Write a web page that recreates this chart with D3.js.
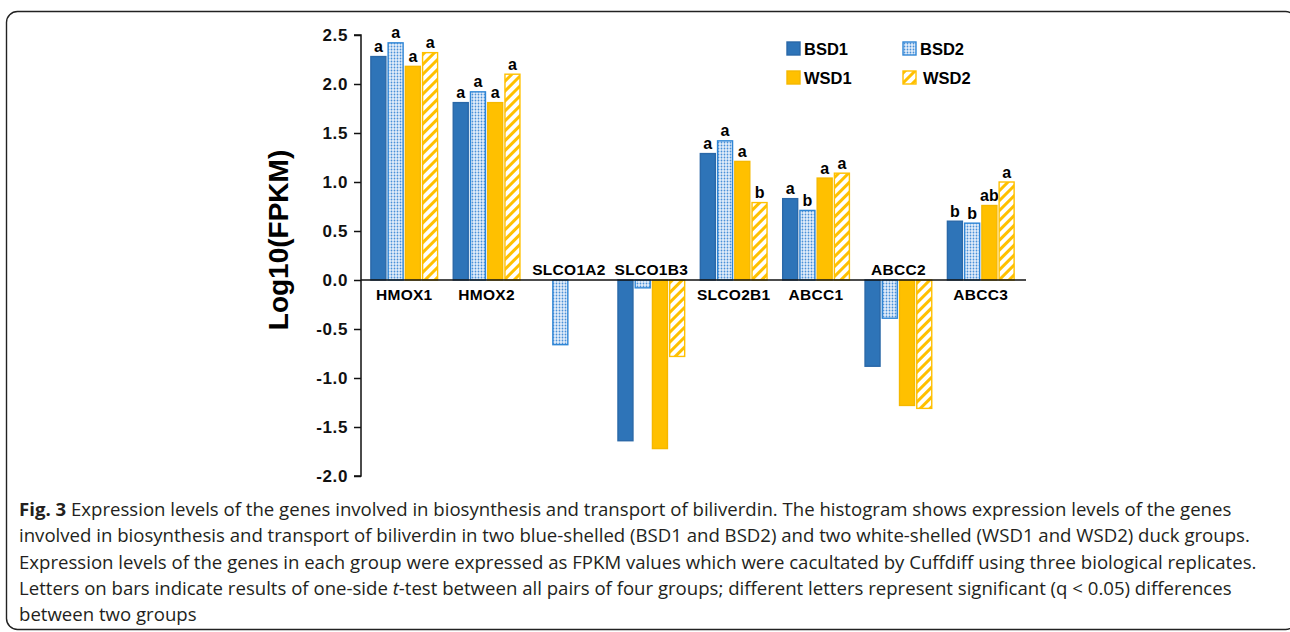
<!DOCTYPE html>
<html>
<head>
<meta charset="utf-8">
<script src="https://cdn.jsdelivr.net/npm/d3@7"></script>
<style>
  body { margin: 0; background: #fff; }
  svg text { font-family: "Liberation Sans", Arial, sans-serif; }
  .caption { font-family: "Open Sans", "Noto Sans", sans-serif; fill: #231f20; }
</style>
</head>
<body>
<div id="chart"></div>
<script>
// data
var genes = ["HMOX1", "HMOX2", "SLCO1A2", "SLCO1B3", "SLCO2B1", "ABCC1", "ABCC2", "ABCC3"];
var groups = ["BSD1", "BSD2", "WSD1", "WSD2"];
var bsd1 = [2.28, 1.81, null, -1.64, 1.29, 0.83, -0.88, 0.60];
var bsd2 = [2.42, 1.92, -0.66, -0.08, 1.42, 0.71, -0.39, 0.58];
var wsd1 = [2.18, 1.81, null, -1.72, 1.21, 1.04, -1.28, 0.76];
var wsd2 = [2.32, 2.10, null, -0.78, 0.79, 1.09, -1.31, 1.00];
var lettersBsd1 = ["a", "a", "", "", "a", "a", "", "b"];
var lettersBsd2 = ["a", "a", "", "", "a", "b", "", "b"];
var lettersWsd1 = ["a", "a", "", "", "a", "a", "", "ab"];
var lettersWsd2 = ["a", "a", "", "", "b", "a", "", "a"];
var yTicks = [-2.0, -1.5, -1.0, -0.5, 0.0, 0.5, 1.0, 1.5, 2.0, 2.5];
var captionLines = [
  "Expression levels of the genes involved in biosynthesis and transport of biliverdin. The histogram shows expression levels of the genes",
  "involved in biosynthesis and transport of biliverdin in two blue-shelled (BSD1 and BSD2) and two white-shelled (WSD1 and WSD2) duck groups.",
  "Expression levels of the genes in each group were expressed as FPKM values which were cacultated by Cuffdiff using three biological replicates.",
  "Letters on bars indicate results of one-side |t|-test between all pairs of four groups; different letters represent significant (q < 0.05) differences",
  "between two groups"
];

var values = [bsd1, bsd2, wsd1, wsd2];
var letters = [lettersBsd1, lettersBsd2, lettersWsd1, lettersWsd2];

var W = 1290, H = 632;
var svg = d3.select("#chart").append("svg")
  .attr("width", W).attr("height", H);

// patterns for BSD2 (dots) and WSD2 (stripes)
var defs = svg.append("defs");
var dots = defs.append("pattern")
  .attr("id", "dots").attr("patternUnits", "userSpaceOnUse")
  .attr("width", 3).attr("height", 3);
dots.append("rect").attr("width", 3).attr("height", 3).attr("fill", "#e3eefa");
dots.append("circle").attr("cx", 1.5).attr("cy", 1.5).attr("r", 0.9).attr("fill", "#4a90d8");

var stripes = defs.append("pattern")
  .attr("id", "stripes").attr("patternUnits", "userSpaceOnUse")
  .attr("width", 7).attr("height", 7)
  .attr("patternTransform", "rotate(45)");
stripes.append("rect").attr("width", 7).attr("height", 7).attr("fill", "#fff");
stripes.append("rect").attr("width", 3).attr("height", 7).attr("fill", "#ffc000");

var fills = ["#2e74b8", "url(#dots)", "#ffc000", "url(#stripes)"];
var strokes = ["#2a68a8", "#2f86d6", "#f5b800", "#ffc000"];

// frame
svg.append("rect")
  .attr("x", 6.5).attr("y", 11.5)
  .attr("width", 1290).attr("height", 618)
  .attr("rx", 11).attr("ry", 11)
  .attr("fill", "none").attr("stroke", "#222").attr("stroke-width", 1.4);

// scales
var x0 = d3.scaleBand().domain(genes).range([361, 1024]).paddingInner(0.19).paddingOuter(0.12);
var x1 = d3.scaleBand().domain(groups).range([0, x0.bandwidth()]).paddingInner(0.13);
var y = d3.scaleLinear().domain([-2, 2.5]).range([476, 35]);

// bars
groups.forEach(function(g, gi) {
  var rows = genes.map(function(gene, i) {
    return {gene: gene, v: values[gi][i], lab: letters[gi][i]};
  }).filter(function(d) { return d.v !== null; });

  svg.selectAll(".bar-" + g)
    .data(rows)
    .enter()
    .append("rect")
      .attr("class", "bar-" + g)
      .attr("x", d => x0(d.gene) + x1(g))
      .attr("width", x1.bandwidth())
      .attr("y", d => y(Math.max(0, d.v)))
      .attr("height", d => Math.abs(y(d.v) - y(0)))
      .attr("fill", fills[gi])
      .attr("stroke", strokes[gi])
      .attr("stroke-width", 1.4);

  svg.selectAll(".lab-" + g)
    .data(rows.filter(d => d.lab))
    .enter()
    .append("text")
      .attr("class", "lab-" + g)
      .attr("x", d => x0(d.gene) + x1(g) + x1.bandwidth() / 2)
      .attr("y", d => y(d.v) - 4.5)
      .attr("text-anchor", "middle")
      .style("font-size", "16px")
      .style("font-weight", "bold")
      .text(d => d.lab);
});

// y axis (plain hyphen for negatives, like the original)
var fmt = d3.format(".1f");
var yAxis = svg.append("g")
  .attr("transform", "translate(361,0)")
  .call(d3.axisLeft(y).tickValues(yTicks)
    .tickFormat(d => fmt(d).replace("\u2212", "-"))
    .tickSize(7).tickPadding(6));
yAxis.select(".domain").attr("stroke", "#111").attr("stroke-width", 1.5).attr("d", "M-7," + y(2.5) + "H0V" + y(-2) + "H-7");
yAxis.selectAll(".tick line").attr("stroke", "#111").attr("stroke-width", 1.5);
yAxis.selectAll(".tick text")
  .style("font-family", "'Liberation Sans', Arial, sans-serif")
  .style("font-size", "17px")
  .style("font-weight", "bold")
  .style("letter-spacing", "0.6px")
  .attr("fill", "#111");

svg.append("text")
  .attr("transform", "translate(288," + 240 + ") rotate(-90)")
  .attr("text-anchor", "middle")
  .style("font-size", "28px")
  .style("font-weight", "bold")
  .text("Log10(FPKM)");

// zero line
svg.append("line")
  .attr("x1", 361).attr("x2", 1026)
  .attr("y1", y(0)).attr("y2", y(0))
  .attr("stroke", "#111").attr("stroke-width", 1.5);

// category labels: below the line for positive groups, above for negative
svg.selectAll(".gene-label")
  .data(genes)
  .enter()
  .append("text")
    .attr("class", "gene-label")
    .attr("x", d => x0(d) + x0.bandwidth() / 2)
    .attr("y", function(d, i) {
      var pos = values.some(v => v[i] !== null && v[i] > 0);
      return pos ? y(0) + 20 : y(0) - 5;
    })
    .attr("text-anchor", "middle")
    .style("font-size", "15.5px")
    .style("font-weight", "bold")
    .style("letter-spacing", "0.3px")
    .text(d => d);

// legend
var legendPos = [[787, 42], [903, 42], [787, 71], [903, 71]];
var legend = svg.selectAll(".legend")
  .data(groups)
  .enter()
  .append("g")
    .attr("class", "legend")
    .attr("transform", (d, i) => "translate(" + legendPos[i][0] + "," + legendPos[i][1] + ")");
legend.append("rect")
  .attr("width", 13).attr("height", 13)
  .attr("fill", (d, i) => fills[i])
  .attr("stroke", (d, i) => strokes[i])
  .attr("stroke-width", 1.4);
legend.append("text")
  .attr("x", (d, i) => i == 3 ? 20 : 17)
  .attr("y", 13)
  .style("font-size", "16.5px")
  .style("font-weight", "bold")
  .text(d => d);

// caption
var cap = svg.append("g").attr("class", "caption");
captionLines.forEach(function(line, i) {
  var t = cap.append("text")
    .attr("class", "caption")
    .attr("x", 19)
    .attr("y", 516 + i * 26.3)
    .style("font-size", "18.6px");
  if (i == 0) {
    t.append("tspan").style("font-weight", "bold").text("Fig. 3");
    t.append("tspan").text(" " + line);
  } else {
    line.split("|").forEach(function(part, k) {
      t.append("tspan").style("font-style", k % 2 ? "italic" : "normal").text(part);
    });
  }
});
</script>
</body>
</html>
